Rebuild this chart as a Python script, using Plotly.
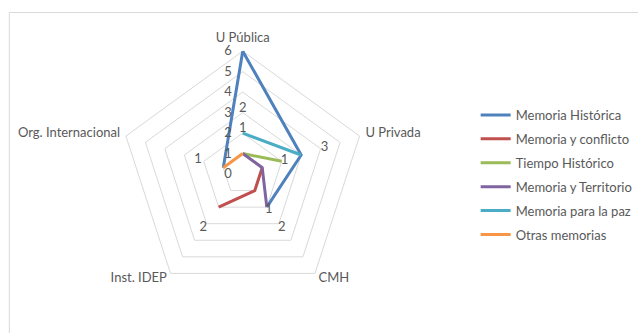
import plotly.graph_objects as go

categories = ["U Pública", "U Privada", "CMH", "Inst. IDEP", "Org. Internacional"]

series_names = ["Memoria Histórica", "Memoria y conflicto", "Tiempo Histórico",
                "Memoria y Territorio", "Memoria para la paz", "Otras memorias"]
memoria_historica = [6, 3, 2, None, 1]
memoria_conflicto = [None, 1, 1, 2, None]
tiempo_historico = [1, 2, None, None, None]
memoria_territorio = [1, 1, 2, None, None]
memoria_paz = [2, 3, None, None, None]
otras_memorias = [1, None, None, None, 1]
series_values = [memoria_historica, memoria_conflicto, tiempo_historico,
                 memoria_territorio, memoria_paz, otras_memorias]
colors = ["#4F81BD", "#C0504D", "#9BBB59", "#8064A2", "#4BACC6", "#F79646"]

# data labels shown on the chart
label_text = ["2", "1", "1", "3", "1", "2", "2", "1"]
label_theta = ["U Pública", "U Pública", "U Privada", "U Privada", "CMH", "CMH", "Inst. IDEP", "Org. Internacional"]
label_r = [3.2, 2.2, 2.14, 4.2, 2.17, 3.24, 3.27, 2.3]

radial_ticks = [0, 1, 2, 3, 4, 5, 6]
RMAX = 6          # outer grid ring
RANGE_MAX = 6.3   # a little room outside the outer ring for category labels

FONT = "Lato"
FS = 13
GRAY = "#595959"

fig = go.Figure()
theta_closed = categories + [categories[0]]
for name, vals, col in zip(series_names, series_values, colors):
    fig.add_trace(go.Scatterpolar(
        r=vals + [vals[0]], theta=theta_closed, mode="lines", name=name,
        line=dict(color=col, width=3), connectgaps=False, legendgroup=name,
    ))

fig.add_trace(go.Scatterpolar(
    r=label_r, theta=label_theta, mode="text", text=label_text,
    textfont=dict(family=FONT, size=FS, color=GRAY), showlegend=False,
))

# category (axis) labels placed beside the outer vertices, as Excel does
fig.add_trace(go.Scatterpolar(
    r=[RANGE_MAX] * len(categories), theta=categories, mode="text", text=categories,
    textposition=["top center", "middle right", "middle right", "middle left", "middle left"],
    textfont=dict(family=FONT, size=FS, color=GRAY), showlegend=False, cliponaxis=False,
))

W, H = 638, 333
cx, cy = 247, 174
unit_px = 125 / RMAX
R = unit_px * RANGE_MAX
fig.update_layout(
    width=W, height=H,
    margin=dict(l=0, r=0, t=0, b=0),
    paper_bgcolor="white",
    font=dict(family=FONT, size=FS, color=GRAY),
    polar=dict(
        domain=dict(x=[(cx - R) / W, (cx + R) / W], y=[(H - cy - R) / H, (H - cy + R) / H]),
        bgcolor="white",
        gridshape="linear",
        radialaxis=dict(range=[0, RANGE_MAX], tickvals=radial_ticks, angle=90, tickangle=90,
                        side="counterclockwise", showline=False, ticks="outside",
                        ticklen=6, tickcolor="rgba(0,0,0,0)",
                        gridcolor="#D9D9D9", gridwidth=1,
                        tickfont=dict(family=FONT, size=FS, color=GRAY)),
        angularaxis=dict(categoryarray=categories, categoryorder="array",
                         rotation=90, direction="clockwise", showgrid=False,
                         showline=False, ticks="", showticklabels=False),
    ),
    legend=dict(x=484 / W, y=1 - 100 / H, xanchor="left", yanchor="top",
                tracegroupgap=4, font=dict(family=FONT, size=FS, color=GRAY),
                bgcolor="rgba(0,0,0,0)"),
    shapes=[dict(type="rect", xref="paper", yref="paper",
                 x0=9.5 / W, x1=1.05, y0=-0.05, y1=1 - 12.5 / H,
                 line=dict(color="#D9D9D9", width=1))],
)

fig.write_html("out.html")
